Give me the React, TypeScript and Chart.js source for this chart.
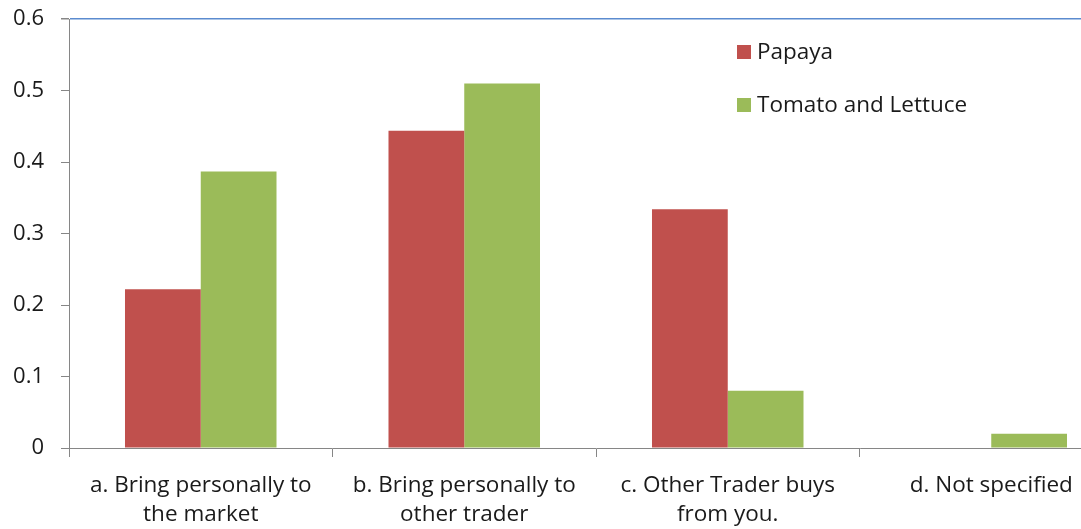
import React, { useEffect, useRef } from "react";
import { Chart, registerables } from "chart.js";

Chart.register(...registerables);

const categories: string[][] = [
  ["a. Bring personally to", "the market"],
  ["b. Bring personally to", "other trader"],
  ["c. Other Trader buys", "from you."],
  ["d. Not specified"],
];
const papaya = [0.222, 0.444, 0.334, 0];
const tomatoLettuce = [0.387, 0.51, 0.08, 0.02];
const seriesNames = ["Papaya", "Tomato and Lettuce"];
const yTicks = [0, 0.1, 0.2, 0.3, 0.4, 0.5, 0.6];

const FONT = "'Open Sans', Lato, sans-serif";
const CANVAS_W = 1141;
const SHIFT = 11;
const CANVAS_H = 556;
const AXIS_Y = 448 + SHIFT;

const legendPlugin = {
  id: "insideLegend",
  afterDraw(chart: any) {
    const ctx = chart.ctx;
    ctx.save();
    ctx.font = `22.5px ${FONT}`;
    ctx.textBaseline = "middle";
    ctx.textAlign = "left";
    chart.data.datasets.forEach((ds: any, i: number) => {
      const y = 52 + SHIFT + i * 53;
      ctx.fillStyle = ds.backgroundColor;
      ctx.fillRect(737, y - 7, 14, 14);
      ctx.fillStyle = "#1a1a1a";
      ctx.fillText(ds.label, 757, y + 1);
    });
    ctx.restore();
  },
};

export default function App() {
  const ref = useRef<HTMLCanvasElement | null>(null);
  useEffect(() => {
    if (!ref.current) return;
    const chart = new Chart(ref.current, {
      type: "bar",
      data: {
        labels: categories,
        datasets: [
          { label: seriesNames[0], data: papaya, backgroundColor: "#C0504D" },
          { label: seriesNames[1], data: tomatoLettuce, backgroundColor: "#9BBB59" },
        ],
      },
      options: {
        responsive: false,
        animation: false,
        devicePixelRatio: 1,
        layout: { padding: { top: 8, right: 18, left: 0, bottom: 0 } },
        datasets: { bar: { categoryPercentage: 0.575, barPercentage: 1 } },
        plugins: { legend: { display: false }, tooltip: { enabled: false } },
        scales: {
          x: {
            grid: {
              offset: true,
              drawOnChartArea: false,
              tickLength: 9,
              color: "#868686",
              tickColor: "#868686",
            },
            border: { display: true, color: "#868686", width: 1 },
            ticks: {
              font: { family: FONT, size: 22.5, lineHeight: "29px" },
              color: "#1a1a1a",
              padding: 14,
              maxRotation: 0,
              autoSkip: false,
            },
            afterFit(scale: any) {
              scale.height = CANVAS_H - AXIS_Y;
            },
          },
          y: {
            min: 0,
            max: 0.6,
            afterBuildTicks(scale: any) {
              scale.ticks = yTicks.map((v) => ({ value: v }));
            },
            grid: {
              color: (c: any) => (c.tick && Math.abs(c.tick.value - 0.6) < 1e-9 ? "#5B8BCF" : "rgba(0,0,0,0)"),
              tickColor: "#868686",
              tickLength: 8,
              lineWidth: (c: any) => (c.tick && Math.abs(c.tick.value - 0.6) < 1e-9 ? 1.5 : 1),
            },
            border: { display: true, color: "#868686", width: 1 },
            ticks: {
              font: { family: FONT, size: 22 },
              color: "#1a1a1a",
              padding: 17,
              callback: (v: any) => String(Math.round(Number(v) * 10) / 10),
            },
            afterFit(scale: any) {
              scale.width = 69;
            },
          },
        },
      },
      plugins: [legendPlugin],
    } as any);
    return () => chart.destroy();
  }, []);

  return (
    <div
      style={{
        position: "fixed",
        left: 0,
        top: 0,
        width: 1081,
        height: 529,
        overflow: "hidden",
        background: "#fff",
      }}
    >
      <canvas
        ref={ref}
        width={CANVAS_W}
        height={CANVAS_H}
        style={{ display: "block", marginTop: -SHIFT }}
      />
    </div>
  );
}
